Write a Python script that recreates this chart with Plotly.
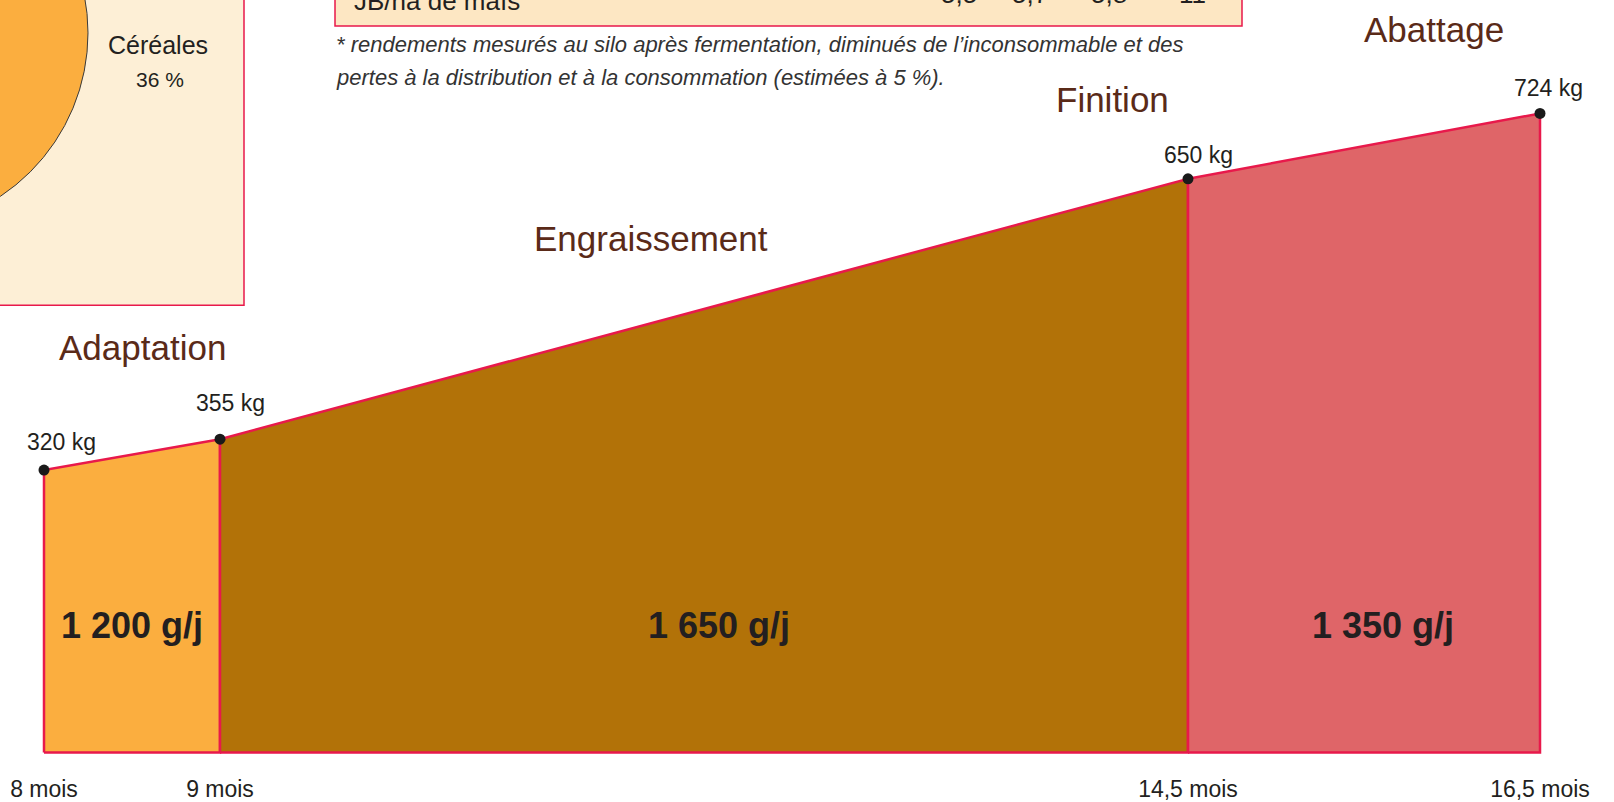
import plotly.graph_objects as go

# --- data ---
months = [8, 9, 14.5, 16.5]
month_labels = ["8 mois", "9 mois", "14,5 mois", "16,5 mois"]
weights = [320, 355, 650, 724]
weight_labels = ["320 kg", "355 kg", "650 kg", "724 kg"]
phases = ["Adaptation", "Engraissement", "Finition", "Abattage"]
gains = ["1 200 g/j", "1 650 g/j", "1 350 g/j"]
table_row = "JB/ha de maïs"
table_values = ["5,5", "5,7", "5,8", "11"]
pie_label = "Céréales"
pie_share = "36 %"
footnote = ["* rendements mesurés au silo après fermentation, diminués de l’inconsommable et des",
            "pertes à la distribution et à la consommation (estimées à 5 %)."]

# --- styles ---
W, H, B = 1614, 802, 40
RED = "#e8194b"
fills = ["#fbae3f", "#b27208", "#df6568"]
BROWN = "#5a2a18"
INK = "#231f20"
SANS = "Liberation Sans, Arial, sans-serif"
PX_PER_MONTH = 176.0
PX_PER_KG = 0.885
X0_PX = 44
Y0_PX = 754.5


def px(x):
    return x / W


def py(y):
    return 1 - y / (H - B)


def note(x, y, text, size, color=INK, xanchor="center"):
    # free text placed in figure pixels
    return dict(xref="paper", yref="paper", x=px(x), y=py(y), text=text, showarrow=False,
                xanchor=xanchor, yanchor="middle", font=dict(family=SANS, size=size, color=color))


fig = go.Figure()

for i, color in enumerate(fills):
    m0, m1 = months[i], months[i + 1]
    w0, w1 = weights[i], weights[i + 1]
    fig.add_trace(go.Scatter(
        x=[m0, m0, m1, m1, m0], y=[0, w0, w1, 0, 0],
        mode="lines", fill="toself", fillcolor=color,
        line=dict(color=RED, width=2.5), hoverinfo="skip", showlegend=False))

fig.add_trace(go.Scatter(
    x=months, y=weights, mode="markers", cliponaxis=False,
    marker=dict(color="#1a1a1a", size=11), showlegend=False))

annotations = []

# weight labels above the dots
kg_shift = [(17, 28), (10, 36), (10, 24), (8, 25)]
for m, w, lab, (dx, dy) in zip(months, weights, weight_labels, kg_shift):
    annotations.append(dict(x=m, y=w, text=lab, showarrow=False, xshift=dx, yshift=dy,
                            xanchor="center", yanchor="middle",
                            font=dict(family=SANS, size=23, color=INK)))

# phase titles
phase_pos = [(142, 348), (651, 239), (1112, 100), (1434, 30)]
for name, (x, y) in zip(phases, phase_pos):
    annotations.append(dict(x=7.75 + x / PX_PER_MONTH, y=(Y0_PX - y) / PX_PER_KG,
                            text=name, showarrow=False, xanchor="center", yanchor="middle",
                            font=dict(family=SANS, size=35, color=BROWN)))

# daily gain inside each phase
gain_shift = [0, 15, 19]
for i, g in enumerate(gains):
    annotations.append(dict(x=(months[i] + months[i + 1]) / 2, y=144, text="<b>%s</b>" % g,
                            showarrow=False, xshift=gain_shift[i], xanchor="center", yanchor="middle",
                            font=dict(family=SANS, size=36, color=INK)))

# top decorations (cropped pie box and table)
shapes = [
    dict(type="rect", xref="paper", yref="paper", x0=px(-5), x1=px(244), y0=py(306), y1=py(-5),
         fillcolor="#fdefd6", line=dict(color=RED, width=1.5), layer="below"),
    dict(type="circle", xref="paper", yref="paper", x0=px(-306), x1=px(88), y0=py(230), y1=py(-164),
         fillcolor="#fbae3f", line=dict(color="#3a3a3a", width=1), layer="below"),
    dict(type="rect", xref="paper", yref="paper", x0=px(335), x1=px(1242), y0=py(26), y1=py(-5),
         fillcolor="#fde7c3", line=dict(color=RED, width=1.5), layer="below"),
]

annotations += [
    note(158, 45, pie_label, 25),
    note(160, 80, pie_share, 21),
    note(352, 1, table_row, 26, xanchor="left"),
]
for v, x in zip(table_values, [959, 1030, 1109, 1192]):
    annotations.append(note(x, -6, v, 26))
for line, y in zip(footnote, [45, 78]):
    annotations.append(note(334, y, "<i>%s</i>" % line, 22, color="#333333", xanchor="left"))

fig.update_layout(
    width=W, height=H,
    margin=dict(l=0, r=0, t=0, b=B, pad=0),
    paper_bgcolor="white", plot_bgcolor="white",
    shapes=shapes, annotations=annotations, showlegend=False,
    xaxis=dict(range=[8 - X0_PX / PX_PER_MONTH, 8 + (W - X0_PX) / PX_PER_MONTH],
               tickvals=months, ticktext=month_labels, ticks="outside", ticklen=8,
               tickcolor="rgba(0,0,0,0)", showgrid=False, zeroline=False, showline=False,
               tickfont=dict(family=SANS, size=23, color=INK)),
    yaxis=dict(range=[-(H - B - Y0_PX) / PX_PER_KG, Y0_PX / PX_PER_KG],
               visible=False, showgrid=False, zeroline=False),
)

# drop the browser's default 8px body margin so the figure sits at the window corner
fig.write_html("out.html", config={"displayModeBar": False},
               post_script="document.body.style.margin='0';")
